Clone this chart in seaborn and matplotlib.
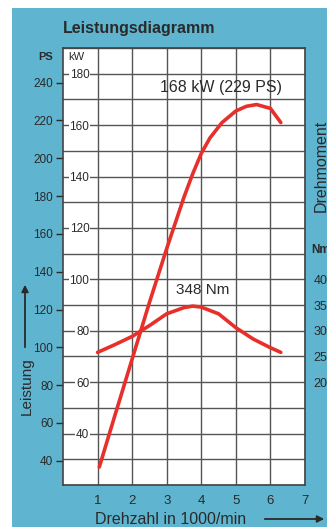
import matplotlib
matplotlib.use("Agg")
import matplotlib.pyplot as plt
import seaborn as sns
import pandas as pd
import numpy as np
from matplotlib.patches import Rectangle, FancyArrowPatch
from matplotlib.ticker import MultipleLocator, FixedLocator

# ---- data ----
rpm_power = [1.05, 1.5, 2.0, 2.5, 3.0, 3.5, 3.75, 4.0, 4.25, 4.6, 5.0, 5.3, 5.6, 6.0, 6.3]
power_kw = [27, 47, 69, 91, 112, 132, 141, 149, 155, 161, 165.5, 167.3, 168, 166.5, 161]

rpm_torque = [1.0, 1.5, 2.0, 2.5, 3.0, 3.5, 3.75, 4.0, 4.5, 5.0, 5.5, 6.0, 6.3]
torque_nm = [258, 273, 289, 310, 333, 345, 348, 346, 333, 306, 284, 267, 258]

x_ticks = [1, 2, 3, 4, 5, 6, 7]
kw_ticks = [40, 60, 80, 100, 120, 140, 160, 180]
ps_ticks = [40, 60, 80, 100, 120, 140, 160, 180, 200, 220, 240]
nm_ticks = [200, 250, 300, 350, 400]

power_label = "168 kW (229 PS)"
torque_label = "348 Nm"

sns.set_theme(style="white")
FONT = ["Liberation Sans", "DejaVu Sans"]
plt.rcParams["font.family"] = FONT

BLUE = "#5fb4d0"
RED = "#e8302a"
DARK = "#2a2a2a"
GRID = "#555555"

W, H = 327, 527
fig = plt.figure(figsize=(W / 100, H / 100), dpi=100, facecolor="white")
fig.patches.append(Rectangle((12 / W, 0), 1, (H - 8) / H, transform=fig.transFigure,
                             facecolor=BLUE, edgecolor="none", zorder=-10))

L, R, T, B = 63, 305, 48, 485
ax = fig.add_axes([L / W, (H - B) / H, (R - L) / W, (B - T) / H])
ax.set_facecolor("white")
ax.set_xlim(0, 7)
ax.set_ylim(20, 190)

# grid
ax.xaxis.set_major_locator(FixedLocator(x_ticks))
ax.yaxis.set_major_locator(FixedLocator(kw_ticks))
ax.yaxis.set_minor_locator(MultipleLocator(10))
ax.grid(True, which="both", axis="y", color=GRID, lw=1.0)
ax.grid(True, which="major", axis="x", color=GRID, lw=1.0)
for s in ax.spines.values():
    s.set_color("#444444")
    s.set_linewidth(1.2)

# kW labels inside plot
ax.tick_params(axis="y", which="major", direction="in", length=0, pad=-19,
               labelsize=8.5, labelcolor=DARK)
ax.tick_params(axis="y", which="minor", length=0)
ax.tick_params(axis="x", length=3, color=GRID, pad=4, labelsize=9.5, labelcolor=DARK)

# power curve
df_p = pd.DataFrame({"rpm": rpm_power, "kW": power_kw})
sns.lineplot(data=df_p, x="rpm", y="kW", ax=ax, color=RED, lw=2.6, sort=False,
             solid_capstyle="round", solid_joinstyle="round")
ax.set_xlabel("")
ax.set_ylabel("")
for lab in ax.get_yticklabels():
    lab.set_horizontalalignment("right")
    lab.set_bbox(dict(facecolor="white", edgecolor="none", pad=0.6))

# torque on twin axis: Nm = 5*kW - 100
ax2 = ax.twinx()
ax2.set_ylim(5 * 20 - 100, 5 * 190 - 100)
df_t = pd.DataFrame({"rpm": rpm_torque, "Nm": torque_nm})
sns.lineplot(data=df_t, x="rpm", y="Nm", ax=ax2, color=RED, lw=2.6, sort=False,
             solid_capstyle="round", solid_joinstyle="round")
ax2.set_ylabel("")
ax2.set_xlabel("")
ax2.yaxis.set_major_locator(FixedLocator(nm_ticks))
ax2.tick_params(axis="y", length=0, pad=6, labelsize=9, labelcolor=DARK)
ax2.grid(False)
for s in ax2.spines.values():
    s.set_visible(False)

# PS axis on the left
sec = ax.secondary_yaxis("left", functions=(lambda k: k * 1.35962, lambda p: p / 1.35962))
sec.yaxis.set_major_locator(FixedLocator(ps_ticks))
sec.tick_params(axis="y", length=5, width=1, color=DARK, pad=2, labelsize=8.5, labelcolor=DARK)
sec.spines["left"].set_visible(False)

ax.text(4.57, 174.5, power_label, ha="center", va="center", fontsize=11.5, color=DARK)
ax2.text(4.05, 379, torque_label, ha="center", va="center", fontsize=11, color=DARK)

# figure texts
fig.text(63 / W, 1 - 28 / H, "Leistungsdiagramm", ha="left", va="center",
         fontsize=11.5, fontweight="bold", color=DARK)
fig.text(46 / W, 1 - 57 / H, "PS", ha="center", va="center", fontsize=8,
         fontweight="bold", color=DARK)
fig.text(76 / W, 1 - 57 / H, "kW", ha="center", va="center", fontsize=8, color=DARK)
fig.text(314 / W, 1 - 166 / H, "Drehmoment", ha="left", va="center", rotation=90,
         fontsize=11.5, color=DARK)
fig.text(311 / W, 1 - 250 / H, "Nm", ha="left", va="center", fontsize=8.5,
         fontweight="bold", color=DARK)
fig.text(27 / W, 1 - 386 / H, "Leistung", ha="center", va="center", rotation=90,
         fontsize=11, color=DARK)
fig.text(95 / W, 1 - 519 / H, "Drehzahl in 1000/min", ha="left", va="center",
         fontsize=11.5, color=DARK)

# arrows
fig.patches.append(FancyArrowPatch(
    (25 / W, 1 - 350 / H), (25 / W, 1 - 282 / H), transform=fig.transFigure,
    arrowstyle="-|>", mutation_scale=10, color=DARK, lw=1.3))
fig.patches.append(FancyArrowPatch(
    (262 / W, 1 - 519 / H), (327 / W, 1 - 519 / H), transform=fig.transFigure,
    arrowstyle="-|>", mutation_scale=10, color=DARK, lw=1.3))

fig.savefig("out.png", dpi=100, facecolor=fig.get_facecolor())
